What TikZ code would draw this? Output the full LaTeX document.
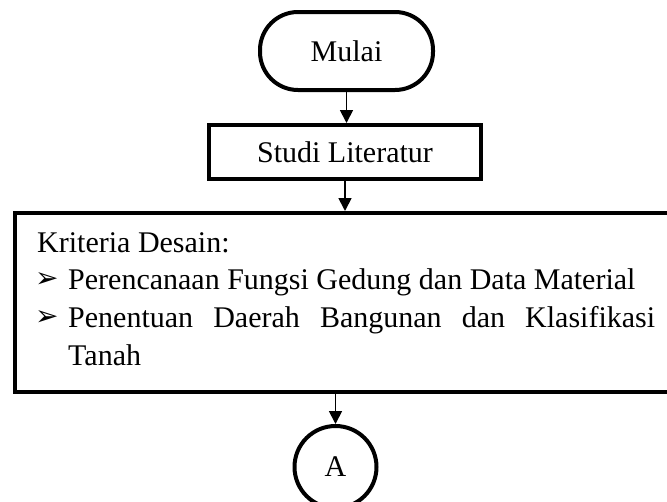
\documentclass[tikz,border=0pt]{standalone}
\usepackage{fontspec}
\setmainfont{Liberation Serif}
\newfontfamily\dejavu{DejaVu Sans}
\usetikzlibrary{arrows.meta}
\begin{document}
\begin{tikzpicture}[x=1pt,y=-1pt,
  box/.style={draw, line width=4pt, inner sep=0pt, font=\fontsize{30}{36}\selectfont},
  conn/.style={line width=1.8pt, -{Triangle[length=13pt,width=13pt]}},
  txt/.style={inner sep=0pt, anchor=base west, font=\fontsize{30}{36}\selectfont},
  bul/.style={inner sep=0pt, anchor=base west, font=\dejavu\fontsize{28}{30}\selectfont},
]
\useasboundingbox (0,0) rectangle (667,501);
\clip (0,0) rectangle (667,501);
\node[box, rounded corners=38pt, minimum width=173pt, minimum height=78pt] (mulai) at (346.5,51) {Mulai};
\node[box, minimum width=272pt, minimum height=54pt] (studi) at (345,152) {Studi Literatur};
\node[box, minimum width=685pt, minimum height=179pt] (kriteria) at (357.5,302.5) {};
\node[box, circle, minimum size=82pt] (a) at (335.5,467) {A};

\node[txt] (t1) at (37,252) {Kriteria Desain:};
\node[bul] (b1) at (35,287) {➢};
\node[txt] (t2) at (68,289) {Perencanaan Fungsi Gedung dan Data Material};
\node[bul] (b2) at (35,325) {➢};
\node[txt] (t3) at (68,327) {\makebox[587pt][s]{Penentuan Daerah Bangunan dan Klasifikasi}};
\node[txt] (t4) at (68,365) {Tanah};

\draw[conn] (mulai.south) -- (mulai.south |- studi.north);
\draw[conn] (studi.south) -- (studi.south |- kriteria.north);
\draw[conn] (a.north |- kriteria.south) -- (a.north);
\end{tikzpicture}
\end{document}
